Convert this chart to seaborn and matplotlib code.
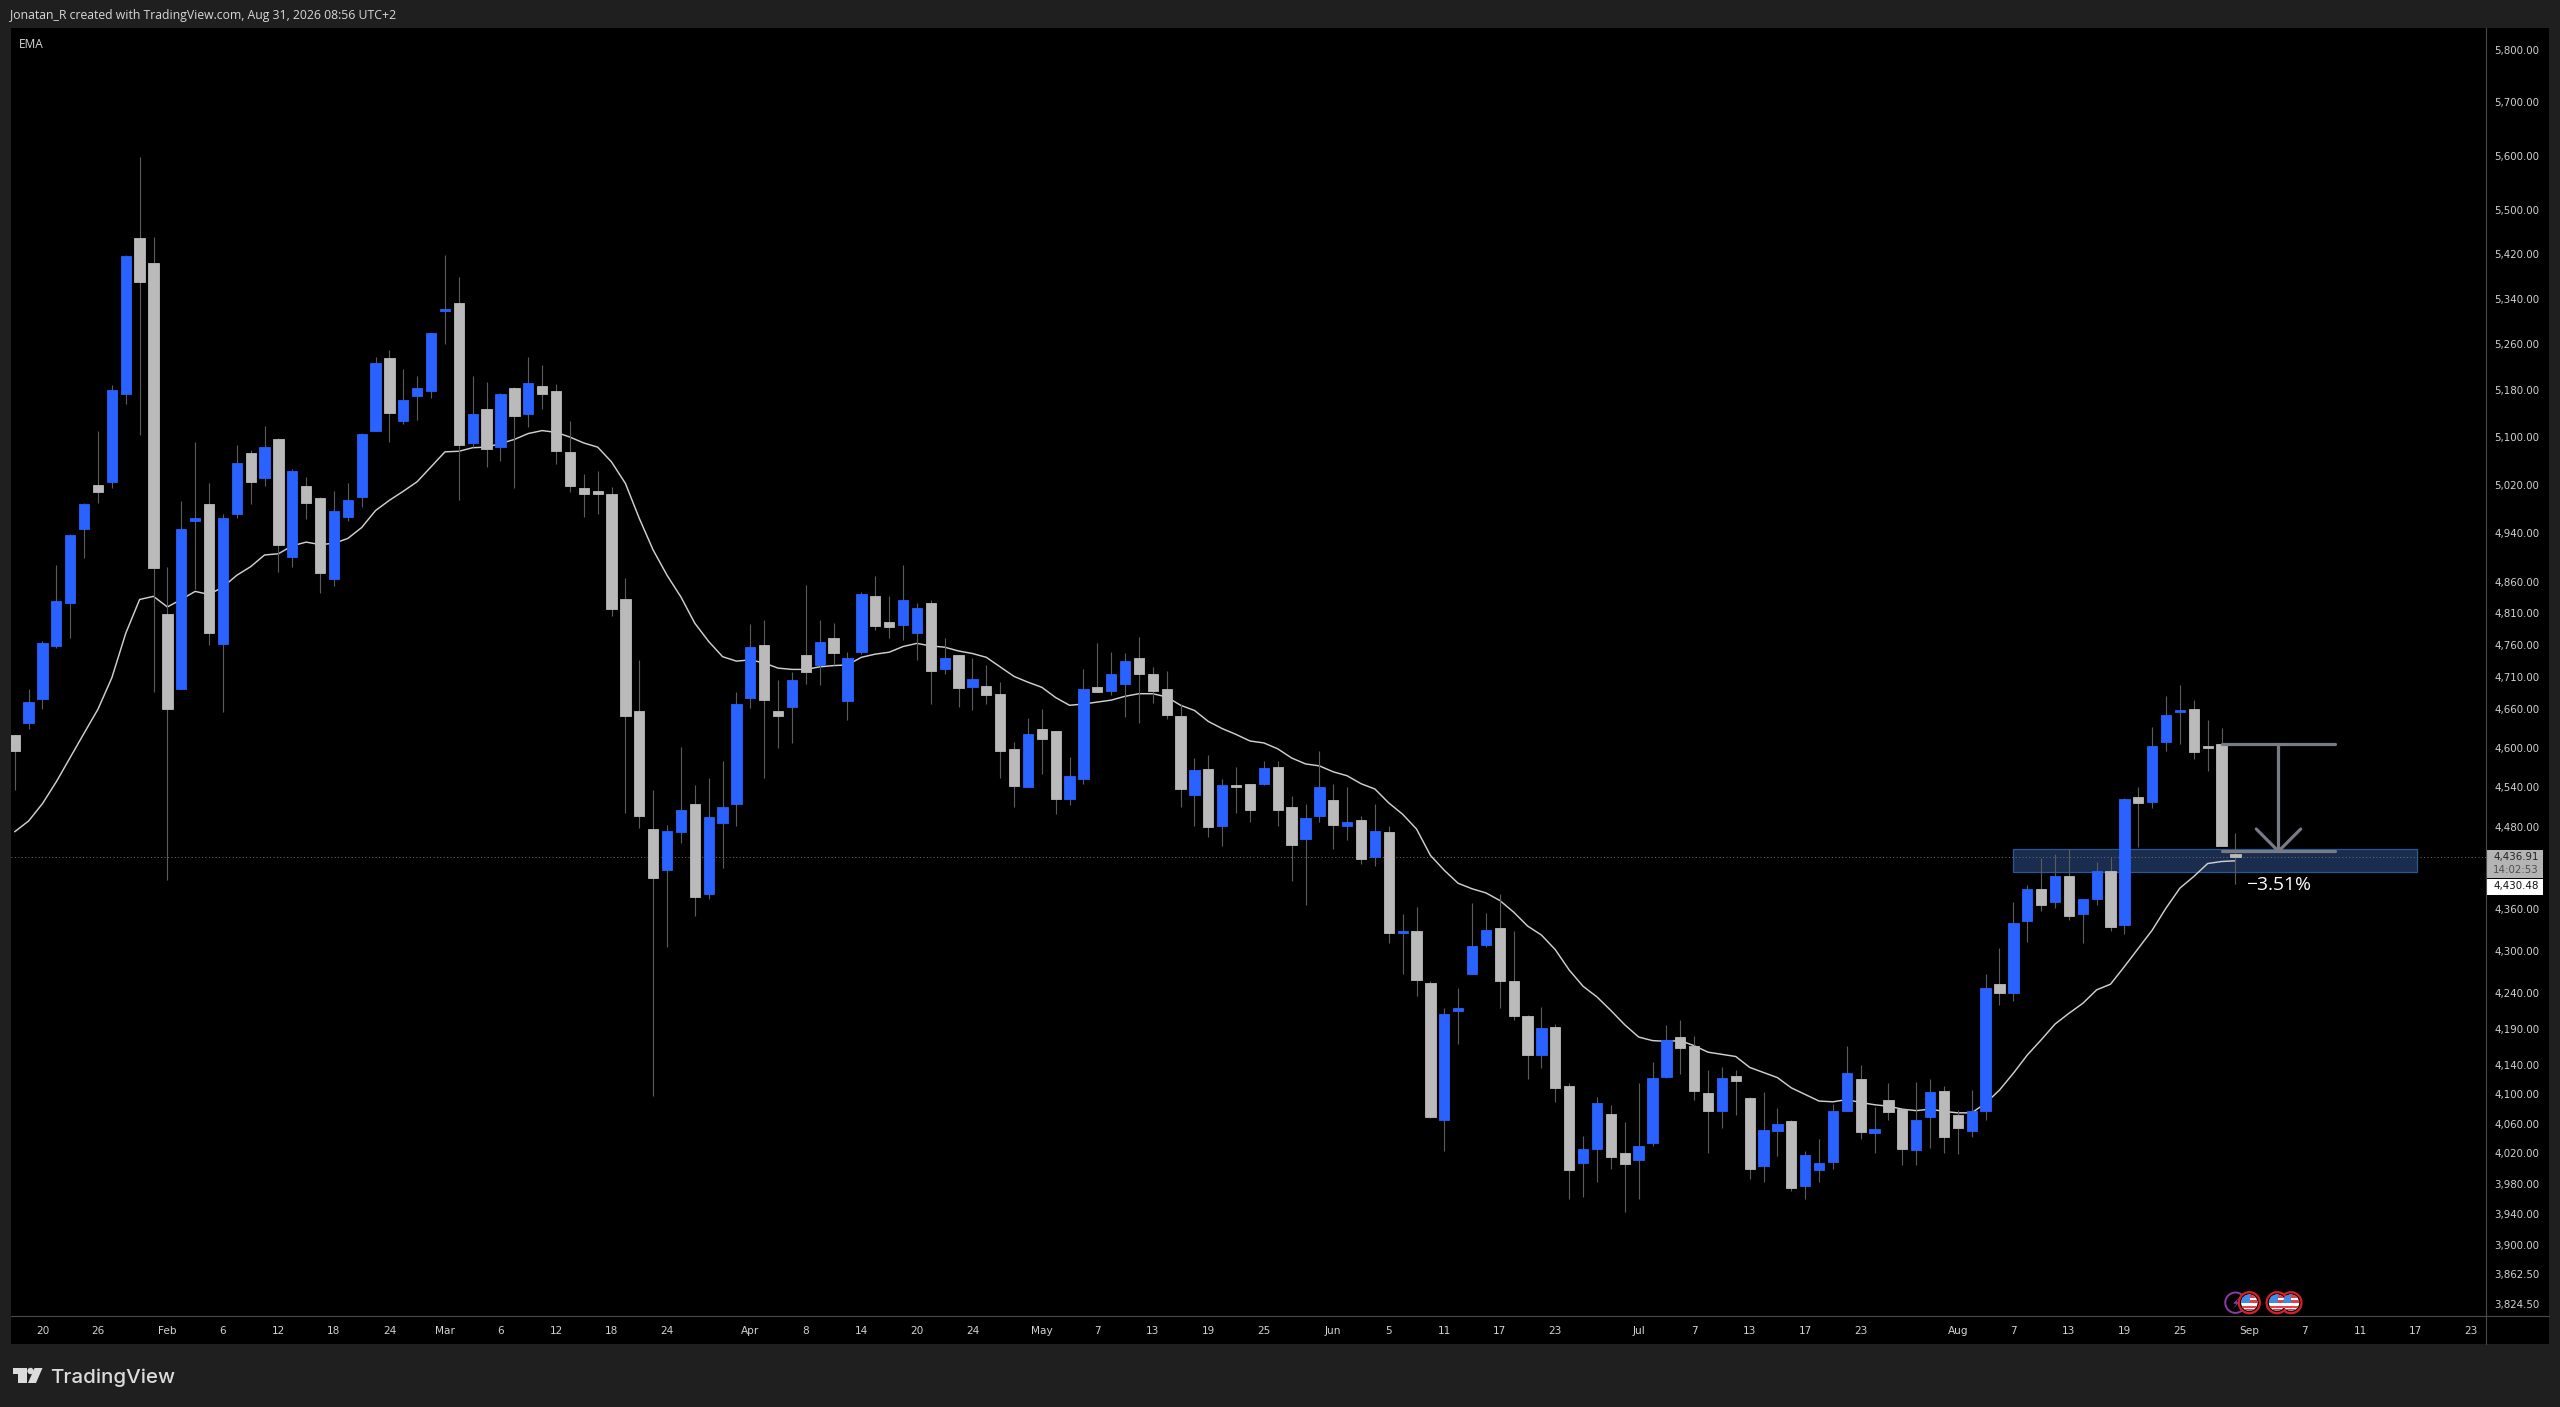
import numpy as np
import pandas as pd
import matplotlib
matplotlib.use("Agg")
import matplotlib.pyplot as plt
from matplotlib.patches import Rectangle, Circle, Polygon
from matplotlib.transforms import ScaledTranslation
import seaborn as sns

W, H = 2560, 1407

# daily candles
open_ = [4621,4640,4677,4760,4829,4949,5021,5026,5176,5451,5405,4811,4692,4962,4990,4763,4974,5075,5033,5099,4903,5020,4999,4867,4969,
         5001,5112,5237,5130,5172,5181,5320,5335,5092,5150,5085,5185,5141,5189,5181,5076,5016,5012,5006,4834,4658,4479,4418,4475,4516,
         4384,4488,4517,4679,4761,4658,4664,4745,4730,4773,4673,4750,4840,4798,4793,4780,4829,4724,4745,4696,4697,4684,4599,4542,4630,
         4628,4524,4554,4695,4690,4700,4741,4716,4692,4651,4530,4570,4483,4545,4547,4547,4572,4512,4464,4498,4522,4484,4492,4438,4475,
         4327,4330,4255,4067,4216,4269,4310,4334,4258,4209,4155,4194,4113,4009,4028,4075,4022,4013,4036,4125,4180,4168,4103,4079,4126,
         4096,4005,4052,4065,3978,3999,4010,4079,4122,4049,4093,4081,4026,4071,4106,4073,4052,4079,4254,4241,4344,4390,4372,4410,4354,
         4376,4417,4338,4527,4520,4610,4657,4662,4605,4608,4442]
close = [4596,4672,4764,4832,4938,4989,5009,5182,5419,5371,4885,4661,4948,4966,4780,4967,5059,5026,5085,4922,5044,4992,4877,4978,4996,
         5108,5229,5143,5165,5186,5281,5323,5089,5142,5081,5176,5137,5194,5176,5079,5019,5006,5006,4818,4650,4498,4407,4476,4507,4379,
         4497,4512,4669,4759,4676,4650,4706,4719,4766,4749,4741,4842,4791,4790,4833,4821,4720,4741,4694,4708,4683,4597,4544,4622,4615,
         4524,4558,4692,4688,4716,4736,4716,4689,4652,4539,4567,4482,4545,4542,4508,4571,4508,4456,4496,4542,4485,4489,4434,4476,4327,
         4330,4260,4071,4212,4220,4309,4332,4258,4209,4155,4192,4110,3999,4027,4089,4016,4007,4032,4124,4176,4165,4106,4078,4124,4120,
         4001,4053,4061,3976,4019,4008,4078,4131,4050,4054,4077,4028,4067,4104,4044,4055,4078,4248,4241,4342,4391,4368,4410,4351,4376,
         4417,4335,4524,4518,4604,4652,4659,4595,4602,4454,4437]
high = [4621,4692,4767,4890,4941,4991,5112,5191,5420,5599,5453,4886,4995,5093,5025,4973,5089,5080,5120,5100,5048,5034,5001,5011,5024,
        5109,5239,5252,5219,5207,5281,5420,5381,5207,5196,5177,5188,5240,5226,5193,5129,5040,5045,5018,4868,4737,4537,4485,4603,4545,
        4556,4581,4688,4794,4801,4707,4719,4858,4801,4796,4751,4846,4872,4840,4890,4828,4833,4773,4745,4741,4730,4703,4611,4648,4661,
        4628,4588,4724,4765,4750,4749,4774,4727,4720,4669,4586,4590,4554,4572,4547,4581,4581,4528,4517,4596,4547,4542,4498,4516,4484,
        4354,4364,4259,4220,4248,4370,4356,4383,4330,4211,4222,4198,4116,4045,4097,4087,4064,4116,4145,4197,4204,4181,4134,4138,4135,
        4097,4104,4082,4066,4024,4041,4088,4167,4142,4084,4116,4083,4118,4122,4113,4080,4107,4268,4305,4372,4397,4436,4442,4450,4376,
        4430,4437,4525,4542,4633,4682,4699,4675,4644,4632,4473]
low = [4537,4631,4661,4757,4773,4901,4992,5016,5158,5105,4688,4404,4692,4851,4761,4657,4966,4989,5020,4879,4887,4965,4844,4855,4962,
       4984,5112,5094,5125,5131,5168,5262,4996,5086,5052,5062,5017,5119,5149,5057,5010,4969,4974,4808,4503,4480,4099,4307,4458,4352,
       4376,4421,4484,4663,4555,4602,4609,4700,4699,4730,4645,4747,4786,4773,4769,4738,4669,4716,4665,4659,4669,4556,4512,4542,4562,
       4501,4515,4547,4688,4683,4649,4640,4671,4646,4512,4483,4467,4454,4503,4490,4545,4484,4403,4367,4490,4449,4463,4428,4425,4313,
       4269,4238,4069,4025,4170,4269,4307,4220,4203,4122,4137,4091,3961,3964,3984,4001,3944,3961,4032,4123,4129,4093,4022,4055,4073,
       3988,3984,4018,3971,3961,3983,4001,4078,4041,4022,4066,4006,4006,4029,4022,4021,4044,4066,4225,4231,4314,4358,4363,4345,4312,
       4368,4330,4326,4453,4510,4596,4607,4584,4566,4454,4398]
ema = [4475,4491,4517,4550,4587,4624,4661,4710,4780,4834,4839,4822,4834,4847,4842,4854,4873,4887,4906,4908,4921,4927,4923,4925,4933,
       4951,4979,4996,5011,5027,5052,5077,5078,5084,5085,5091,5098,5108,5113,5110,5102,5092,5085,5060,5024,4966,4914,4873,4838,4796,
       4767,4743,4736,4738,4733,4725,4723,4723,4727,4729,4730,4742,4747,4750,4759,4764,4760,4758,4752,4748,4742,4727,4712,4703,4695,
       4679,4667,4669,4672,4675,4681,4685,4685,4680,4667,4659,4642,4631,4622,4612,4609,4600,4586,4577,4574,4565,4559,4547,4539,4518,
       4501,4479,4440,4418,4399,4391,4385,4374,4357,4337,4324,4303,4274,4251,4236,4217,4197,4180,4175,4174,4175,4168,4159,4156,4153,
       4138,4131,4124,4110,4101,4092,4091,4094,4090,4087,4085,4081,4079,4081,4078,4076,4076,4089,4107,4130,4155,4176,4198,4213,4227,
       4246,4254,4279,4305,4331,4363,4392,4409,4428,4431,4432]

price_ticks = [5800,5700,5600,5500,5420,5340,5260,5180,5100,5020,4940,4860,4810,4760,4710,4660,4600,4540,4480,
               4360,4300,4240,4190,4140,4100,4060,4020,3980,3940,3900,3862.5,3824.5]
date_ticks = [2,6,11,15,19,23,27,31,35,39,43,47,53,57,61,65,69,74,78,82,86,90,95,99,103,107,111,117,121,125,129,133,
              140,144,148,152,156,161,165,169,173,177]
date_labels = ["20","26","Feb","6","12","18","24","Mar","6","12","18","24","Apr","8","14","20","24","May","7","13","19","25",
               "Jun","5","11","17","23","Jul","7","13","17","23","Aug","7","13","19","25","Sep","7","11","17","23"]

zone_bars = [144.0, 173.1]
zone_prices = [4416, 4449]
drop_bars = [159.0, 167.2, 163.1, 161.5, 164.7]
drop_prices = [4607.8, 4446, 4479.1]
event_bars = [161, 164, 163]

BG = "#1f1f1f"
BLUE = "#2962ff"
GREY = "#bababa"
TXT = "#d2d2d2"
EDGE = "#4a4a4a"

df = pd.DataFrame({"open": open_, "close": close, "high": high, "low": low, "ema": ema})
df["bar"] = df.index
df["up"] = df["close"] >= df["open"]

sns.set_theme(style="dark")
plt.rcParams["font.family"] = ["DejaVu Sans"]

fig = plt.figure(figsize=(W / 100, H / 100), dpi=100, facecolor=BG)

# black panel under everything, in pixels
back = fig.add_axes([0, 0, 1, 1], zorder=0)
back.set_xlim(0, W)
back.set_ylim(H, 0)
back.axis("off")
back.add_patch(Rectangle((10.6, 28), 2549 - 10.6, 1344 - 28, fc="black", ec="none"))

left, right, top, bottom = 11, 2485.7, 28, 1316.3
ax = fig.add_axes([left / W, 1 - bottom / H, (right - left) / W, (bottom - top) / H], zorder=1)
ax.set_facecolor("black")
ax.set_yscale("log")

ax.add_patch(Rectangle((zone_bars[0], zone_prices[0]), zone_bars[1] - zone_bars[0], zone_prices[1] - zone_prices[0],
                       fc="#1a2d4f", ec="#265a96", lw=0.9, zorder=1))
ax.axhline(close[-1], color="#707070", lw=0.7, ls=(0, (1, 2.5)), zorder=1.5)

sns.lineplot(data=df, x="bar", y="ema", ax=ax, color="#cfcfcf", lw=1.05, estimator=None, sort=False, zorder=2)

ax.vlines(df["bar"], df["low"], df["high"], color="#5c5c5c", lw=0.8, zorder=3)
colors = [BLUE if u else GREY for u in df["up"]]
lo_body = df[["open", "close"]].min(axis=1)
ax.bar(df["bar"], (df["open"] - df["close"]).abs(), bottom=lo_body, width=0.74, color=colors, edgecolor=colors, lw=0.6, zorder=4)

# the drop drawing
tool = dict(color="#787b86", lw=2.3, solid_capstyle="round", zorder=5)
ax.plot(drop_bars[:2], [drop_prices[0]] * 2, **tool)
ax.plot(drop_bars[:2], [drop_prices[1]] * 2, **tool)
ax.plot([drop_bars[2]] * 2, drop_prices[:2], **tool)
ax.plot([drop_bars[3], drop_bars[2], drop_bars[4]], [drop_prices[2], drop_prices[1], drop_prices[2]], **tool)
ax.text(drop_bars[2], 4397, "\u22123.51%", color="white", fontsize=13.9, family="Open Sans", ha="center", va="center", zorder=6)

ax.set_xlim(-0.267, 178.03)
ax.set_ylim(3809.6, 5844.7)
ax.set_xlabel("")
ax.set_ylabel("")
ax.grid(False)
for s in ax.spines.values():
    s.set_visible(False)

ax.yaxis.tick_right()
ax.minorticks_off()
ax.set_yticks(price_ticks)
ax.set_yticklabels([f"{p:,.2f}" for p in price_ticks])
ax.set_xticks(date_ticks)
ax.set_xticklabels(date_labels)
ax.tick_params(axis="y", which="both", length=0, pad=6, labelsize=7.4, colors=TXT, labelright=True, labelleft=False)
ax.tick_params(axis="x", which="both", length=0, pad=7, labelsize=7.6, colors=TXT)
nudge = ScaledTranslation(0, 1 / 100, fig.dpi_scale_trans)
for lab in ax.get_yticklabels():
    lab.set_transform(lab.get_transform() + nudge)

# everything around the chart, in pixels
over = fig.add_axes([0, 0, 1, 1], zorder=2)
over.set_xlim(0, W)
over.set_ylim(H, 0)
over.axis("off")
over.plot([right, right], [28, 1344], color=EDGE, lw=0.8)
over.plot([10.6, 2549], [bottom, bottom], color=EDGE, lw=0.8)

over.text(10, 16, "Jonatan_R created with TradingView.com, Aug 31, 2026 08:56 UTC+2", color="#d8d8d8",
          fontsize=8.8, family="Open Sans", va="center", ha="left")
over.text(19, 45, "EMA", color="#d8d8d8", fontsize=8.6, family="Open Sans", va="center", ha="left")

over.add_patch(Rectangle((right + 0.5, 849.5), 57, 28.5, fc="#b4b4b4", ec="none"))
over.add_patch(Rectangle((right + 0.5, 879), 57, 15.5, fc="white", ec="none"))
lab_x = 2539
over.text(lab_x, 856.7, "4,436.91", color="#222222", fontsize=7.4, ha="right", va="center")
over.text(lab_x, 869.7, "14:02:53", color="#505050", fontsize=7.4, ha="right", va="center")
over.text(lab_x, 886.5, "4,430.48", color="#111111", fontsize=7.4, ha="right", va="center")

# TradingView mark and name
logo = "#dcdcdc"
over.add_patch(Polygon([(12.5, 1368), (27, 1368), (27, 1383), (18, 1383), (18, 1374), (12.5, 1374)], fc=logo, ec="none"))
over.add_patch(Circle((30.5, 1371), 3.2, fc=logo, ec="none"))
over.add_patch(Polygon([(34.5, 1368), (42.5, 1368), (36, 1383), (28, 1383)], fc=logo, ec="none"))
over.text(50.5, 1383, "TradingView", color=logo, fontsize=14.8, family="Inter", weight="medium", va="baseline", ha="left")


def bar_to_px(i):
    return ax.transData.transform((i, 4000))[0]


def flag(cx, cy):
    r_out = 10.5
    over.add_patch(Circle((cx, cy), r_out, fc="black", ec="#d8202c", lw=1.6, zorder=5))
    disc = Circle((cx, cy), 8.2, fc="white", ec="none", zorder=5.1)
    over.add_patch(disc)
    for dy in (-7.5, -2.4, 2.8, 6.6):
        st = Rectangle((cx - 9, cy + dy), 18, 2.4, fc="#e0404a", ec="none", zorder=5.2)
        over.add_patch(st)
        st.set_clip_path(disc)
    canton = Rectangle((cx - 9, cy - 9), 9.5, 9.5, fc="#3f8be8", ec="none", zorder=5.3)
    over.add_patch(canton)
    canton.set_clip_path(disc)


ey = 1302.7
plt.draw()
over.add_patch(Circle((bar_to_px(160), ey), 10.2, fc="black", ec="#8e3aa8", lw=1.4, zorder=4))
over.add_patch(Polygon([(2239, ey - 5), (2233, ey + 1), (2236.5, ey + 1), (2233, ey + 6), (2240, ey - 1), (2236.5, ey - 1)],
                       fc="#8e3aa8", ec="none", zorder=4.5))
for b in event_bars:
    flag(bar_to_px(b), ey)

fig.savefig("out.png", dpi=100, facecolor=BG)
